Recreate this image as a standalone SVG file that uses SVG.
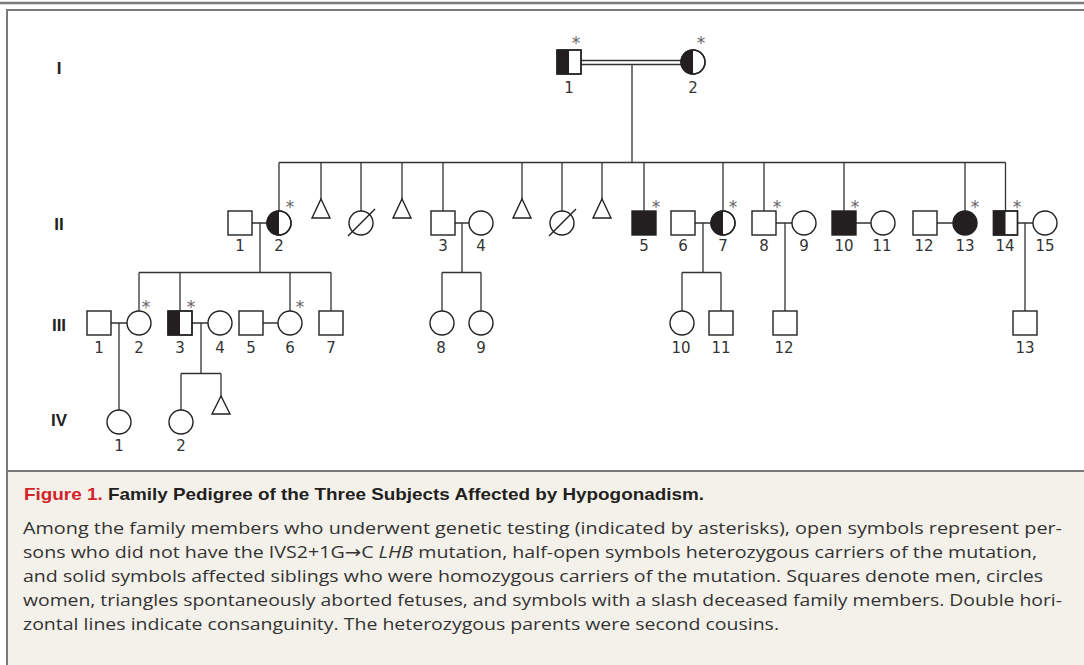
<svg xmlns="http://www.w3.org/2000/svg" width="1084" height="665" viewBox="0 0 1084 665">
<style>
.frame{stroke:#7a7a7a;fill:none}
.ln{stroke:#333;stroke-width:1.3;fill:none}
.sym{fill:#fff;stroke:#222;stroke-width:1.4}
.blk{fill:#231f20;stroke:none}
.num{font-family:"DejaVu Sans",sans-serif;font-size:15px;fill:#333;text-anchor:middle}
.ast{font-family:"DejaVu Sans",sans-serif;font-size:17px;fill:#666;text-anchor:middle}
.gen{font-family:"Liberation Sans",Arial,sans-serif;font-weight:bold;font-size:17px;fill:#222;text-anchor:middle}
.title{font-family:"Liberation Sans Narrow","Liberation Sans",Arial,sans-serif;font-weight:bold;font-size:17px;fill:#231f20}
.body{font-family:"Open Sans","DejaVu Sans",sans-serif;font-size:17px;fill:#333}
</style>

<g id="frame">
  <rect x="0" y="0" width="1084" height="665" fill="#fff"/>
  <rect x="8" y="471" width="1076" height="194" fill="#f4f1ea"/>
  <line class="frame" x1="0" y1="3" x2="1084" y2="3" stroke-width="2.5"/>
  <line class="frame" x1="6" y1="10" x2="1084" y2="10" stroke-width="2"/>
  <line class="frame" x1="7" y1="10" x2="7" y2="665" stroke-width="2"/>
  <line class="frame" x1="7" y1="471" x2="1084" y2="471" stroke-width="2"/>
</g>

<g id="generation-labels">
  <text class="gen" x="59" y="74">I</text>
  <text class="gen" x="59" y="230">II</text>
  <text class="gen" x="59" y="331">III</text>
  <text class="gen" x="59" y="426">IV</text>
</g>

<g id="connectors" class="ln">
  <path d="M581 60.5 H681 M581 64.5 H681"/>
  <path d="M632 64.5 V162.5"/>
  <path d="M279 162.5 H1005.5"/>
  <path d="M279 162.5 V211 M321 162.5 V199 M361 162.5 V211 M402 162.5 V199 M443 162.5 V211 M522 162.5 V199 M562 162.5 V211 M602 162.5 V199 M644 162.5 V211 M723 162.5 V211 M764 162.5 V211 M844 162.5 V211 M965 162.5 V211 M1005.5 162.5 V211"/>
  <path d="M252 223 H267 M455 223 H469 M695 223 H711 M776 223 H792 M856 223 H871 M937 223 H953 M1017 223 H1033"/>
  <path d="M260 223 V272.5 M462 223 V272.5 M703 223 V272.5 M785 223 V311 M1025 223 V311"/>
  <path d="M139 272.5 H331 M442 272.5 H481 M682 272.5 H721"/>
  <path d="M139 272.5 V311 M180 272.5 V311 M290 272.5 V311 M331 272.5 V311 M442 272.5 V311 M481 272.5 V311 M682 272.5 V311 M721 272.5 V311"/>
  <path d="M111 323 H127 M192 323 H208 M263 323 H278"/>
  <path d="M119 323 V410 M201 323 V373.5"/>
  <path d="M181 373.5 H221 M181 373.5 V410 M221 373.5 V396"/>
</g>

<!-- Generation I -->
<g id="I-1">
  <rect class="sym" x="557" y="50" width="24" height="24"/>
  <rect class="blk" x="557" y="50" width="12" height="24"/>
  <rect x="557" y="50" width="24" height="24" fill="none" stroke="#222" stroke-width="1.4"/>
  <text class="num" x="569" y="93">1</text>
  <text class="ast" x="576" y="49">*</text>
</g>
<g id="I-2">
  <circle class="sym" cx="693" cy="62" r="12"/>
  <path class="blk" d="M693 50 A12 12 0 0 0 693 74 Z"/>
  <circle cx="693" cy="62" r="12" fill="none" stroke="#222" stroke-width="1.4"/>
  <text class="num" x="693" y="93">2</text>
  <text class="ast" x="701" y="49">*</text>
</g>

<!-- Generation II -->
<g id="II-1">
  <rect class="sym" x="228" y="211" width="24" height="24"/>
  <text class="num" x="240" y="251">1</text>
</g>
<g id="II-2">
  <circle class="sym" cx="279" cy="223" r="12"/>
  <path class="blk" d="M279 211 A12 12 0 0 0 279 235 Z"/>
  <circle cx="279" cy="223" r="12" fill="none" stroke="#222" stroke-width="1.4"/>
  <text class="num" x="279" y="251">2</text>
  <text class="ast" x="290" y="213">*</text>
</g>
<g id="II-abort-1">
  <polygon class="sym" points="321,199 330,218 312,218"/>
</g>
<g id="II-deceased-1">
  <circle class="sym" cx="361" cy="223" r="12"/>
  <line x1="348" y1="236" x2="375" y2="209" stroke="#222" stroke-width="1.4"/>
</g>
<g id="II-abort-2">
  <polygon class="sym" points="402,199 411,218 393,218"/>
</g>
<g id="II-3">
  <rect class="sym" x="431" y="211" width="24" height="24"/>
  <text class="num" x="443" y="251">3</text>
</g>
<g id="II-4">
  <circle class="sym" cx="481" cy="223" r="12"/>
  <text class="num" x="481" y="251">4</text>
</g>
<g id="II-abort-3">
  <polygon class="sym" points="522,199 531,218 513,218"/>
</g>
<g id="II-deceased-2">
  <circle class="sym" cx="562" cy="223" r="12"/>
  <line x1="549" y1="236" x2="576" y2="209" stroke="#222" stroke-width="1.4"/>
</g>
<g id="II-abort-4">
  <polygon class="sym" points="602,199 611,218 593,218"/>
</g>
<g id="II-5">
  <rect x="632" y="211" width="24" height="24" fill="#231f20" stroke="#222" stroke-width="1.4"/>
  <text class="num" x="644" y="251">5</text>
  <text class="ast" x="656" y="213">*</text>
</g>
<g id="II-6">
  <rect class="sym" x="671" y="211" width="24" height="24"/>
  <text class="num" x="683" y="251">6</text>
</g>
<g id="II-7">
  <circle class="sym" cx="723" cy="223" r="12"/>
  <path class="blk" d="M723 211 A12 12 0 0 0 723 235 Z"/>
  <circle cx="723" cy="223" r="12" fill="none" stroke="#222" stroke-width="1.4"/>
  <text class="num" x="723" y="251">7</text>
  <text class="ast" x="733" y="213">*</text>
</g>
<g id="II-8">
  <rect class="sym" x="752" y="211" width="24" height="24"/>
  <text class="num" x="764" y="251">8</text>
  <text class="ast" x="777" y="213">*</text>
</g>
<g id="II-9">
  <circle class="sym" cx="804" cy="223" r="12"/>
  <text class="num" x="804" y="251">9</text>
</g>
<g id="II-10">
  <rect x="832" y="211" width="24" height="24" fill="#231f20" stroke="#222" stroke-width="1.4"/>
  <text class="num" x="844" y="251">10</text>
  <text class="ast" x="855" y="213">*</text>
</g>
<g id="II-11">
  <circle class="sym" cx="883" cy="223" r="12"/>
  <text class="num" x="882" y="251">11</text>
</g>
<g id="II-12">
  <rect class="sym" x="913" y="211" width="24" height="24"/>
  <text class="num" x="924" y="251">12</text>
</g>
<g id="II-13">
  <circle cx="965" cy="223" r="12" fill="#231f20" stroke="#222" stroke-width="1.4"/>
  <text class="num" x="965" y="251">13</text>
  <text class="ast" x="975" y="213">*</text>
</g>
<g id="II-14">
  <rect class="sym" x="993.5" y="211" width="24" height="24"/>
  <rect class="blk" x="993.5" y="211" width="12" height="24"/>
  <rect x="993.5" y="211" width="24" height="24" fill="none" stroke="#222" stroke-width="1.4"/>
  <text class="num" x="1005" y="251">14</text>
  <text class="ast" x="1017" y="213">*</text>
</g>
<g id="II-15">
  <circle class="sym" cx="1045" cy="223" r="12"/>
  <text class="num" x="1045" y="251">15</text>
</g>

<!-- Generation III -->
<g id="III-1">
  <rect class="sym" x="87" y="311" width="24" height="24"/>
  <text class="num" x="99" y="353">1</text>
</g>
<g id="III-2">
  <circle class="sym" cx="139" cy="323" r="12"/>
  <text class="num" x="139" y="353">2</text>
  <text class="ast" x="146" y="313">*</text>
</g>
<g id="III-3">
  <rect class="sym" x="168" y="311" width="24" height="24"/>
  <rect class="blk" x="168" y="311" width="12" height="24"/>
  <rect x="168" y="311" width="24" height="24" fill="none" stroke="#222" stroke-width="1.4"/>
  <text class="num" x="180" y="353">3</text>
  <text class="ast" x="191" y="313">*</text>
</g>
<g id="III-4">
  <circle class="sym" cx="220" cy="323" r="12"/>
  <text class="num" x="220" y="353">4</text>
</g>
<g id="III-5">
  <rect class="sym" x="239" y="311" width="24" height="24"/>
  <text class="num" x="251" y="353">5</text>
</g>
<g id="III-6">
  <circle class="sym" cx="290" cy="323" r="12"/>
  <text class="num" x="290" y="353">6</text>
  <text class="ast" x="300" y="313">*</text>
</g>
<g id="III-7">
  <rect class="sym" x="319" y="311" width="24" height="24"/>
  <text class="num" x="331" y="353">7</text>
</g>
<g id="III-8">
  <circle class="sym" cx="442" cy="323" r="12"/>
  <text class="num" x="441" y="353">8</text>
</g>
<g id="III-9">
  <circle class="sym" cx="481" cy="323" r="12"/>
  <text class="num" x="481" y="353">9</text>
</g>
<g id="III-10">
  <circle class="sym" cx="682" cy="323" r="12"/>
  <text class="num" x="681" y="353">10</text>
</g>
<g id="III-11">
  <rect class="sym" x="709" y="311" width="24" height="24"/>
  <text class="num" x="721" y="353">11</text>
</g>
<g id="III-12">
  <rect class="sym" x="773" y="311" width="24" height="24"/>
  <text class="num" x="784" y="353">12</text>
</g>
<g id="III-13">
  <rect class="sym" x="1013" y="311" width="24" height="24"/>
  <text class="num" x="1025" y="353">13</text>
</g>

<!-- Generation IV -->
<g id="IV-1">
  <circle class="sym" cx="119" cy="422" r="12"/>
  <text class="num" x="119" y="451">1</text>
</g>
<g id="IV-2">
  <circle class="sym" cx="181" cy="422" r="12"/>
  <text class="num" x="181" y="451">2</text>
</g>
<g id="IV-abort">
  <polygon class="sym" points="221,396 230,414 212,414"/>
</g>

<g id="caption">
  <text class="title" x="24" y="500" textLength="680" lengthAdjust="spacingAndGlyphs"><tspan fill="#d2232a">Figure 1.</tspan> Family Pedigree of the Three Subjects Affected by Hypogonadism.</text>
  <text class="body" x="23" y="534" textLength="1039" lengthAdjust="spacingAndGlyphs">Among the family members who underwent genetic testing (indicated by asterisks), open symbols represent per-</text>
  <text class="body" x="23" y="558" textLength="1014" lengthAdjust="spacingAndGlyphs">sons who did not have the IVS2+1G→C <tspan font-style="italic">LHB</tspan> mutation, half-open symbols heterozygous carriers of the mutation,</text>
  <text class="body" x="23" y="582" textLength="1020" lengthAdjust="spacingAndGlyphs">and solid symbols affected siblings who were homozygous carriers of the mutation. Squares denote men, circles</text>
  <text class="body" x="23" y="606" textLength="1039" lengthAdjust="spacingAndGlyphs">women, triangles spontaneously aborted fetuses, and symbols with a slash deceased family members. Double hori-</text>
  <text class="body" x="23" y="630" textLength="756" lengthAdjust="spacingAndGlyphs">zontal lines indicate consanguinity. The heterozygous parents were second cousins.</text>
</g>
</svg>
